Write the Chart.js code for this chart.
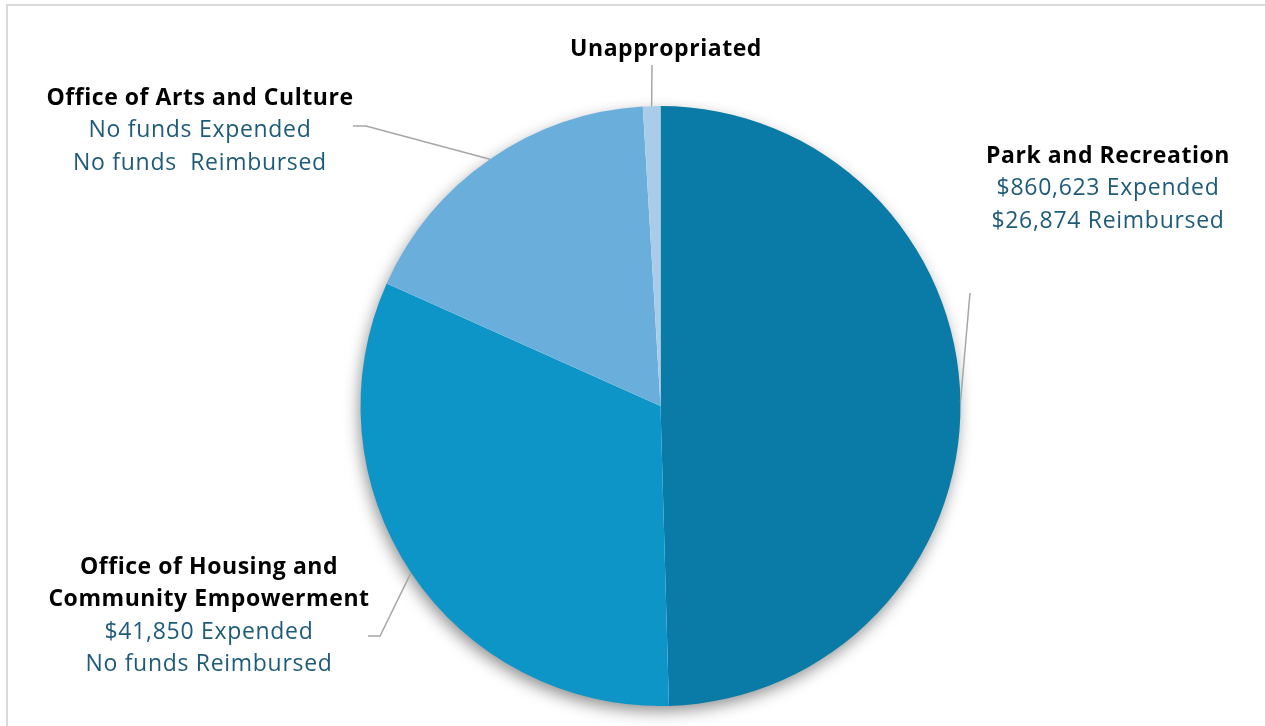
<!DOCTYPE html>
<html>
<head>
<meta charset="utf-8">
<script src="https://cdn.jsdelivr.net/npm/chart.js@4.4.1/dist/chart.umd.min.js"></script>
<style>
  html, body { margin: 0; padding: 0; background: #fff; }
  #wrap { position: relative; width: 1265px; height: 726px; overflow: hidden; }
  #frame { position: absolute; left: 6px; top: 4px; width: 1270px; height: 740px; border: 2px solid #d9d9d9; box-sizing: border-box; pointer-events: none; }
  canvas { position: absolute; left: 0; top: 0; }
</style>
</head>
<body>
<div id="wrap">
  <canvas id="c" width="1265" height="726"></canvas>
  <div id="frame"></div>
</div>
<script>
const categories = ["Park and Recreation", "Office of Housing and Community Empowerment", "Office of Arts and Culture", "Unappropriated"];
const shares = [49.55, 32.15, 17.36, 0.94];
const colors = ["#0a7ba7", "#0e95c8", "#6aafdc", "#a9cce8"];
const titleLines = [
  ["Park and Recreation"],
  ["Office of Housing and", "Community Empowerment"],
  ["Office of Arts and Culture"],
  ["Unappropriated"]
];
const detailLines = [
  ["$860,623 Expended", "$26,874 Reimbursed"],
  ["$41,850 Expended", "No funds Reimbursed"],
  ["No funds Expended", "No funds  Reimbursed"],
  []
];

// label layout (positions only)
const labelLayout = [
  { x: 1108, y: 156, line: [[970, 293]] },
  { x: 209, y: 567, line: [[368, 636], [380, 636]] },
  { x: 200, y: 98, line: [[353, 126], [366, 126]] },
  { x: 666, y: 49, line: [[652, 65]] }
];

const shadowPlugin = {
  id: 'pieShadow',
  beforeDatasetsDraw(chart) {
    const arc = chart.getDatasetMeta(0).data[0];
    if (!arc) return;
    const ctx = chart.ctx;
    ctx.save();
    ctx.shadowColor = 'rgba(0,0,0,0.45)';
    ctx.shadowBlur = 16;
    ctx.shadowOffsetX = -2;
    ctx.shadowOffsetY = 6;
    ctx.fillStyle = '#ffffff';
    ctx.beginPath();
    ctx.arc(arc.x, arc.y, arc.outerRadius - 1, 0, Math.PI * 2);
    ctx.fill();
    ctx.restore();
  }
};

const labelPlugin = {
  id: 'pieLabels',
  afterDatasetsDraw(chart) {
    const ctx = chart.ctx;
    const meta = chart.getDatasetMeta(0);
    meta.data.forEach((arc, i) => {
      const lay = labelLayout[i];
      const mid = (arc.startAngle + arc.endAngle) / 2;
      const ex = arc.x + Math.cos(mid) * arc.outerRadius;
      const ey = arc.y + Math.sin(mid) * arc.outerRadius;
      ctx.save();
      ctx.strokeStyle = '#a6a6a6';
      ctx.lineWidth = 1.5;
      ctx.beginPath();
      ctx.moveTo(lay.line[0][0], lay.line[0][1]);
      for (let k = 1; k < lay.line.length; k++) ctx.lineTo(lay.line[k][0], lay.line[k][1]);
      ctx.lineTo(ex, ey);
      ctx.stroke();
      ctx.textAlign = 'center';
      ctx.textBaseline = 'middle';
      let y = lay.y;
      ctx.fillStyle = '#000000';
      ctx.font = 'bold 23px "Open Sans", sans-serif';
      ctx.letterSpacing = '0.55px';
      titleLines[i].forEach(t => { ctx.fillText(t, lay.x, y); y += 32.5; });
      ctx.fillStyle = '#1d5b79';
      ctx.font = '23px "Open Sans", sans-serif';
      ctx.letterSpacing = '0.7px';
      detailLines[i].forEach(t => { ctx.fillText(t, lay.x, y); y += 32.5; });
      ctx.restore();
    });
  }
};

new Chart(document.getElementById('c'), {
  type: 'pie',
  data: {
    labels: categories,
    datasets: [{
      data: shares,
      backgroundColor: colors,
      borderWidth: 0
    }]
  },
  options: {
    responsive: false,
    animation: false,
    layout: { padding: { top: 106, bottom: 20, left: 60, right: 4 } },
    plugins: {
      legend: { display: false },
      tooltip: { enabled: false },
      title: { display: false }
    }
  },
  plugins: [shadowPlugin, labelPlugin]
});
</script>
</body>
</html>
